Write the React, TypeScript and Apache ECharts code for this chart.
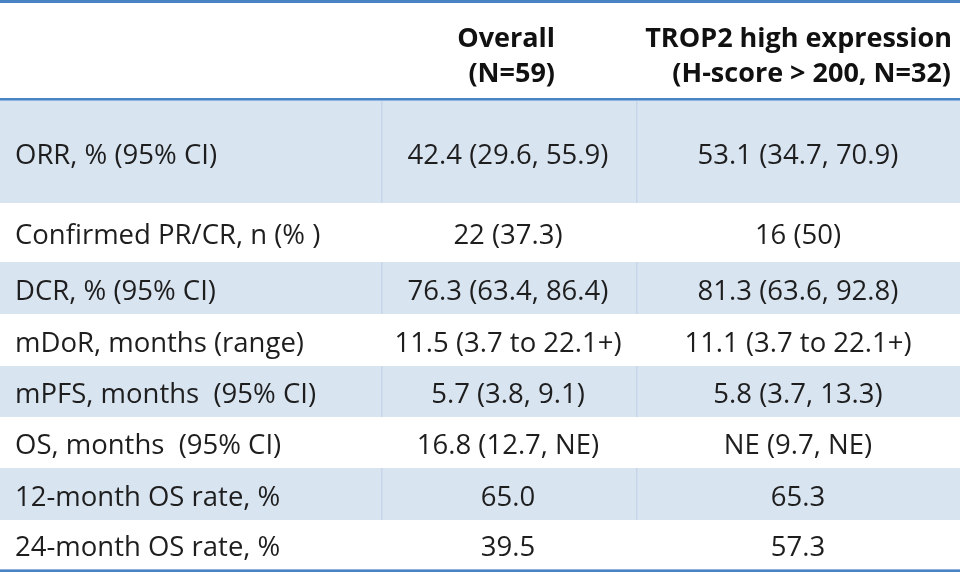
import React, { useEffect, useRef } from "react";
import * as echarts from "echarts";

const headerOverall = ["Overall", "(N=59)"];
const headerTrop2 = ["TROP2 high expression", "(H-score > 200, N=32)"];
const rowLabels = [
  "ORR, % (95% CI)",
  "Confirmed PR/CR, n (% )",
  "DCR, % (95% CI)",
  "mDoR, months (range)",
  "mPFS, months  (95% CI)",
  "OS, months  (95% CI)",
  "12-month OS rate, %",
  "24-month OS rate, %",
];
const overallValues = [
  "42.4 (29.6, 55.9)",
  "22 (37.3)",
  "76.3 (63.4, 86.4)",
  "11.5 (3.7 to 22.1+)",
  "5.7 (3.8, 9.1)",
  "16.8 (12.7, NE)",
  "65.0",
  "39.5",
];
const trop2Values = [
  "53.1 (34.7, 70.9)",
  "16 (50)",
  "81.3 (63.6, 92.8)",
  "11.1 (3.7 to 22.1+)",
  "5.8 (3.7, 13.3)",
  "NE (9.7, NE)",
  "65.3",
  "57.3",
];

// layout (not data)
const W = 960;
const H = 572;
const headerTop = 3;
const headerBottom = 98;
const bodyTop = 101;
const rowHeights = [102, 59, 52, 52, 51, 51, 52, 49];
const colDiv1 = 381;
const colDiv2 = 636;
const labelX = 15;
const col2Center = 508;
const col3Center = 798;
const shade = "#d9e4f1";
const divColor = "#c6d5e9";
const blue = "#4a83c4";
const textColor = "#1e1e1e";
const fontFamily = "'Open Sans', 'Noto Sans', sans-serif";

export default function App() {
  const ref = useRef<HTMLDivElement>(null);
  useEffect(() => {
    if (!ref.current) return;
    const chart = echarts.init(ref.current, null, { renderer: "svg" });
    const elements: any[] = [];
    elements.push({ type: "rect", shape: { x: 0, y: 0, width: W, height: H }, style: { fill: "#ffffff" } });
    let y = bodyTop;
    rowLabels.forEach((label, i) => {
      const h = rowHeights[i];
      if (i % 2 === 0) {
        elements.push({ type: "rect", shape: { x: 0, y, width: W, height: h }, style: { fill: shade } });
        [colDiv1, colDiv2].forEach((x) =>
          elements.push({ type: "rect", shape: { x: x, y, width: 1.5, height: h }, style: { fill: divColor } })
        );
      }
      const cy = y + h / 2 + 1;
      const base = { fontFamily, fontSize: 27.5, fill: textColor, verticalAlign: "middle" };
      elements.push({ type: "text", x: labelX, y: cy, style: { ...base, text: label, align: "left" } });
      elements.push({ type: "text", x: col2Center, y: cy, style: { ...base, text: overallValues[i], align: "center" } });
      elements.push({ type: "text", x: col3Center, y: cy, style: { ...base, text: trop2Values[i], align: "center" } });
      y += h;
    });
    const hb = { fontFamily, fontSize: 27, fontWeight: "bold", fill: "#111111", verticalAlign: "middle" };
    elements.push({ type: "text", x: 555, y: 36, style: { ...hb, text: headerOverall[0], align: "right" } });
    elements.push({ type: "text", x: 555, y: 71, style: { ...hb, text: headerOverall[1], align: "right" } });
    elements.push({ type: "text", x: 952, y: 36, style: { ...hb, text: headerTrop2[0], align: "right" } });
    elements.push({ type: "text", x: 951, y: 71, style: { ...hb, text: headerTrop2[1], align: "right" } });
    elements.push({ type: "rect", shape: { x: 0, y: 0, width: W, height: headerTop }, style: { fill: blue } });
    elements.push({ type: "rect", shape: { x: 0, y: headerBottom, width: W, height: 2 }, style: { fill: blue } });
    elements.push({ type: "rect", shape: { x: 0, y: headerBottom + 2, width: W, height: 1 }, style: { fill: "#8fb3de" } });
    elements.push({ type: "rect", shape: { x: 0, y: y, width: W, height: 1 }, style: { fill: "#8fb3de" } });
    elements.push({ type: "rect", shape: { x: 0, y: y + 1, width: W, height: H - y - 1 }, style: { fill: blue } });

    chart.setOption({ animation: false, graphic: { elements } });
    return () => chart.dispose();
  }, []);
  return <div ref={ref} style={{ position: "fixed", left: 0, top: 0, width: W, height: H }} />;
}
